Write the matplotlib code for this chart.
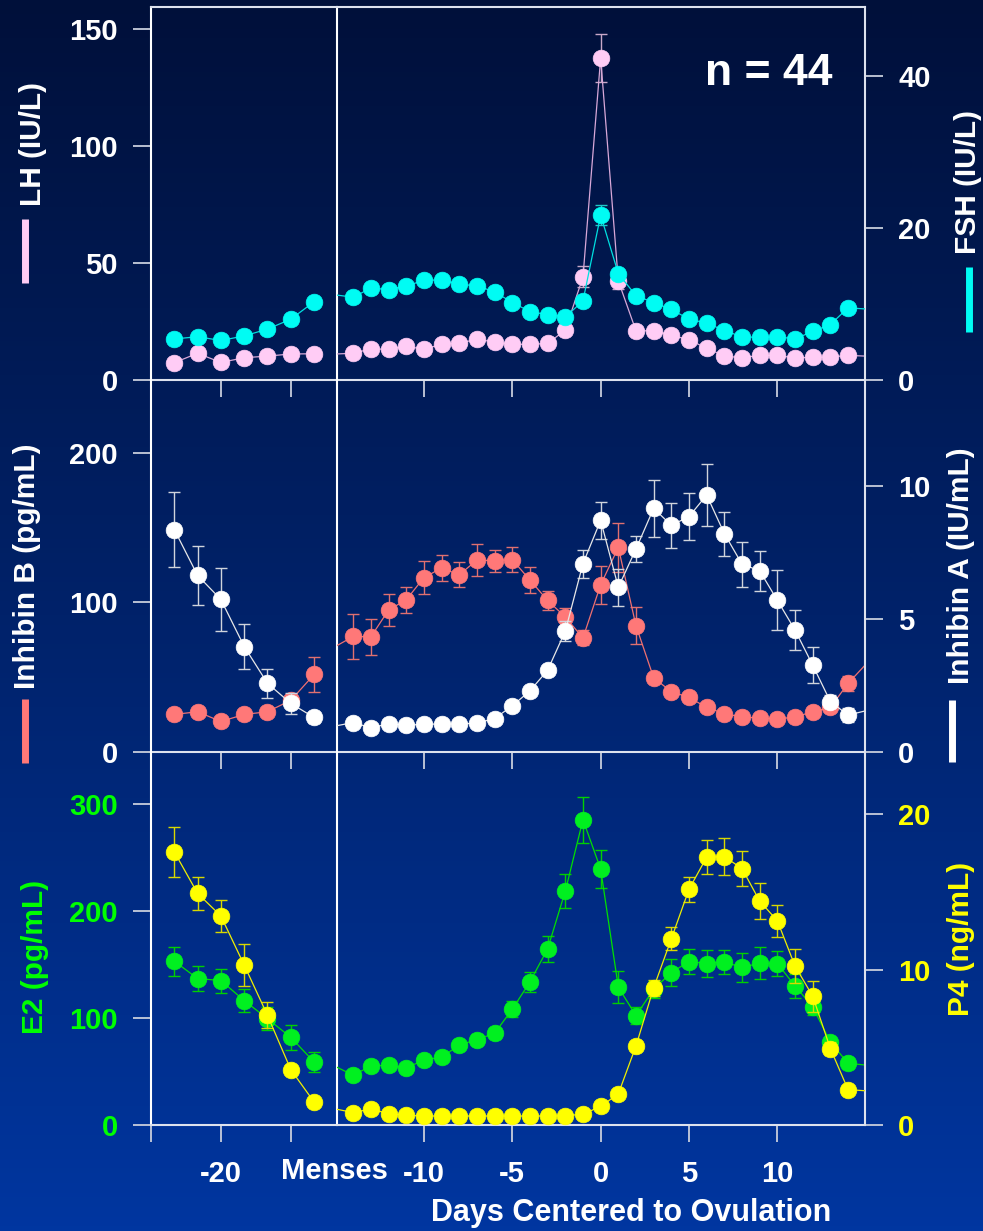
import numpy as np
import matplotlib
matplotlib.use("Agg")
import matplotlib.pyplot as plt
from matplotlib.lines import Line2D
from matplotlib.colors import LinearSegmentedColormap

plt.rcParams['font.family'] = ['Liberation Sans', 'DejaVu Sans']
plt.rcParams['font.weight'] = 'bold'

# ---------------- data ----------------
# pre-menses section (previous cycle), plotted on its own compressed scale
pre_x = [-23.33, -21.67, -20.0, -18.33, -16.67, -15.0, -13.33]
# main section: days centred to ovulation (days -15 and 15 only feed the
# connecting lines that run off the panel edges)
days = list(range(-15, 16))

lh_pre = [7.4, 11.4, 7.5, 9.5, 10.2, 11.1, 11.2]
lh_pre_err = [1.0, 1.0, 1.0, 1.0, 1.0, 1.0, 1.0]
fsh_pre = [5.4, 5.7, 5.2, 5.8, 6.7, 8.0, 10.3]
fsh_pre_err = [0.3, 0.3, 0.3, 0.3, 0.3, 0.4, 0.4]

lh = [11.1, 11.4, 13.3, 13.1, 14.4, 13.1, 15.3, 15.6, 17.5, 16.1, 15.3, 15.2, 15.6,
      21.3, 44.0, 137.4, 42.3, 21.0, 21.0, 19.2, 17.1, 13.6, 10.2, 9.5, 10.5, 10.5,
      9.4, 9.7, 9.8, 10.5, 10.2]
lh_err = [1.0, 1.0, 1.0, 1.0, 1.0, 1.0, 1.0, 1.0, 1.2, 1.0, 1.0, 1.0, 1.0,
          1.5, 4.5, 10.4, 3.5, 1.5, 1.5, 1.2, 1.2, 1.0, 1.0, 1.0, 1.0, 1.0,
          1.0, 1.0, 1.0, 1.0, 1.0]
fsh = [11.2, 10.9, 12.1, 11.9, 12.4, 13.1, 13.2, 12.6, 12.4, 11.6, 10.2, 9.0, 8.6,
       8.3, 10.4, 21.7, 14.0, 11.1, 10.2, 9.3, 8.0, 7.5, 6.5, 5.7, 5.6, 5.7,
       5.4, 6.4, 7.3, 9.5, 9.35]
fsh_err = [0.4, 0.4, 0.4, 0.4, 0.4, 0.4, 0.4, 0.4, 0.4, 0.4, 0.4, 0.3, 0.3,
           0.3, 0.5, 1.3, 0.6, 0.4, 0.4, 0.3, 0.3, 0.3, 0.3, 0.3, 0.3, 0.3,
           0.3, 0.3, 0.3, 0.4, 0.4]

inhb_pre = [25.1, 26.9, 20.4, 25.1, 26.9, 34.5, 51.8]
inhb_pre_err = [2.0, 2.0, 2.0, 2.0, 2.0, 3.0, 11.6]
inha_pre = [8.37, 6.65, 5.74, 3.97, 2.59, 1.83, 1.30]
inha_pre_err = [1.4, 1.1, 1.2, 0.84, 0.54, 0.4, 0.2]

inhb = [70.6, 77.2, 77.0, 94.9, 101.7, 116.6, 122.9, 118.4, 128.3, 127.8, 128.5,
        114.9, 101.3, 90.2, 76.2, 111.8, 136.7, 84.4, 49.6, 40.3, 36.5, 29.8,
        25.6, 23.4, 22.7, 22.0, 23.4, 26.9, 29.8, 45.8, 58.5]
inhb_err = [10.0, 15.3, 12.0, 10.4, 8.9, 11.2, 8.7, 8.3, 10.6, 7.5, 8.4,
            8.9, 6.4, 6.2, 5.0, 12.7, 16.5, 12.5, 3.0, 2.5, 2.0, 1.5,
            1.5, 1.5, 1.5, 1.5, 2.0, 3.0, 3.0, 5.0, 5.0]
inha = [0.98, 1.11, 0.91, 1.06, 1.01, 1.04, 1.06, 1.05, 1.09, 1.26, 1.74,
        2.30, 3.08, 4.55, 7.09, 8.72, 6.20, 7.64, 9.17, 8.53, 8.86, 9.67,
        8.22, 7.07, 6.82, 5.71, 4.59, 3.27, 1.90, 1.39, 1.55]
inha_err = [0.1, 0.1, 0.1, 0.1, 0.1, 0.1, 0.1, 0.1, 0.1, 0.1, 0.12,
            0.15, 0.2, 0.37, 0.53, 0.7, 0.7, 0.5, 1.07, 0.85, 0.9, 1.18,
            0.83, 0.85, 0.75, 1.13, 0.75, 0.69, 0.25, 0.25, 0.2]

e2_pre = [153.1, 136.9, 135.0, 116.3, 99.4, 82.0, 58.9]
e2_pre_err = [13.7, 12.0, 11.2, 10.7, 11.0, 11.8, 9.6]
p4_pre = [17.57, 14.91, 13.45, 10.29, 7.07, 3.57, 1.48]
p4_pre_err = [1.6, 1.07, 1.05, 1.33, 0.86, 0.3, 0.15]

e2 = [54.6, 46.5, 55.2, 55.8, 53.3, 60.8, 63.3, 74.8, 79.8, 85.8, 108.2,
      133.8, 164.6, 218.6, 285.3, 239.2, 128.8, 102.2, 126.9, 142.5, 152.8,
      150.9, 152.5, 147.2, 151.3, 150.9, 130.0, 110.4, 77.4, 57.7, 56.0]
e2_err = [5, 4, 5, 4, 4, 4, 4, 5, 5, 5, 7.5,
          9.6, 12.4, 16, 21.5, 17.4, 15, 8, 8, 12.5, 11.6,
          12.5, 11.5, 13.5, 15, 11.6, 11, 8, 5, 5, 5]
p4 = [1.03, 0.80, 1.03, 0.73, 0.62, 0.58, 0.58, 0.58, 0.58, 0.58, 0.58,
      0.58, 0.58, 0.60, 0.69, 1.2, 2.0, 5.09, 8.83, 11.98, 15.17,
      17.23, 17.27, 16.5, 14.41, 13.14, 10.23, 8.29, 4.92, 2.28, 2.2]
p4_err = [0.1, 0.1, 0.1, 0.1, 0.1, 0.1, 0.1, 0.1, 0.1, 0.1, 0.1,
          0.1, 0.1, 0.1, 0.1, 0.1, 0.15, 0.3, 0.5, 0.74, 0.8,
          1.1, 1.2, 1.14, 1.18, 1.04, 1.11, 1.0, 0.4, 0.2, 0.2]

# ---------------- layout ----------------
W, H = 983, 1231
fig = plt.figure(figsize=(W / 100, H / 100), dpi=100)


def fx(px):
    return px / W


def fy(py):
    return 1 - py / H


# dark-to-royal blue backdrop
bg = fig.add_axes([0, 0, 1, 1], zorder=-10)
cmap = LinearSegmentedColormap.from_list('bg', ['#00103a', '#00226a', '#0036a0'])
bg.imshow(np.linspace(0, 1, 256)[:, None], aspect='auto', cmap=cmap,
          extent=[0, 1, 0, 1], origin='upper')
bg.axis('off')

X_LEFT, X_BREAK, X_RIGHT = 151, 337, 865
panel_px = [(7, 380), (380, 752), (752, 1125)]
left_lims = [(0, 159.2), (0, 248.6), (0, 348.6)]
right_lims = [(0, 49.1), (0, 14.0), (0, 24.0)]
left_ticks = [[0, 50, 100, 150], [0, 100, 200], [0, 100, 200, 300]]
right_ticks = [[0, 20, 40], [0, 5, 10], [0, 10, 20]]
left_tcol = ['white', 'white', '#00ff00']
right_tcol = ['white', 'white', '#ffff00']

SPINE = '#dde2ee'
TICK = '#c8cedc'
FS = 21

series_pre = [
    ((lh_pre, lh_pre_err), (fsh_pre, fsh_pre_err)),
    ((inhb_pre, inhb_pre_err), (inha_pre, inha_pre_err)),
    ((e2_pre, e2_pre_err), (p4_pre, p4_pre_err)),
]
series_main = [
    ((lh, lh_err), (fsh, fsh_err)),
    ((inhb, inhb_err), (inha, inha_err)),
    ((e2, e2_err), (p4, p4_err)),
]
styles = [
    (('#ffccf5', '#d8a8d8', '#c8a8c8'), ('#00fcf4', '#00e0e0', '#20c8c8')),
    (('#ff7878', '#f07070', '#e07070'), ('#ffffff', '#e8e8e8', '#d0d4dc')),
    (('#00f020', '#00e000', '#00d000'), ('#ffff00', '#f0f000', '#d8d800')),
]


def draw_series(ax, x, y, err, style, trim=False):
    face, line, ecol = style
    ax.plot(x, y, '-', color=line, lw=0.9, zorder=3)
    # off-panel end points only contribute line segments
    if trim:
        x, y, err = x[1:-1], y[1:-1], err[1:-1]
    ax.errorbar(x, y, yerr=err, fmt='none', ecolor=ecol, elinewidth=1.0,
                capsize=4.3, capthick=1.0, zorder=2)
    ax.plot(x, y, 'o', ms=12, color=face, mec=face, mew=0.5, zorder=4)


def style_spines(ax, visible):
    for side, sp in ax.spines.items():
        sp.set_visible(side in visible)
        sp.set_color(SPINE)
        sp.set_linewidth(1.5)


for i, (top, bot) in enumerate(panel_px):
    h = (bot - top) / H
    axL = fig.add_axes([fx(X_LEFT), fy(bot), fx(X_BREAK) - fx(X_LEFT), h])
    axL.patch.set_visible(False)
    axL2 = axL.twinx()
    axM = fig.add_axes([fx(X_BREAK), fy(bot), fx(X_RIGHT) - fx(X_BREAK), h])
    axM.patch.set_visible(False)
    axM2 = axM.twinx()

    axL.set_xlim(-25, -11.69)
    axM.set_xlim(-14.92, 14.96)
    for a in (axL, axM):
        a.set_ylim(*left_lims[i])
    for a in (axL2, axM2):
        a.set_ylim(*right_lims[i])

    vis_top = ['top'] if i == 0 else []
    style_spines(axL, ['left', 'bottom', 'right'] + vis_top)
    style_spines(axM, ['bottom'] + vis_top)
    style_spines(axL2, [])
    style_spines(axM2, ['right'])
    axL.spines['right'].set_color('white')
    axL.spines['left'].set_color('white')

    # left-hand y axis
    axL.set_yticks(left_ticks[i])
    axL.tick_params(axis='y', direction='out', length=13, width=1.3, color=TICK,
                    pad=11, labelsize=FS, labelcolor=left_tcol[i])
    axL2.set_yticks([])
    axM.set_yticks([])
    # right-hand y axis
    axM2.set_yticks(right_ticks[i])
    axM2.tick_params(axis='y', direction='out', length=13, width=1.3, color=TICK,
                     pad=11, labelsize=FS, labelcolor=right_tcol[i])

    # x axes
    axL.set_xticks([-25, -20, -15])
    axM.set_xticks([-10, -5, 0, 5, 10])
    for a in (axL, axM):
        a.tick_params(axis='x', direction='out', length=12, width=1.3, color=TICK,
                      pad=13, labelsize=FS, labelcolor='white')
    if i == 2:
        axL.set_xticklabels(['', '-20', ''])
        axM.set_xticklabels(['-10', '-5', '0', '5', '10'])
    else:
        axL.set_xticklabels([])
        axM.set_xticklabels([])

    (ly, lerr), (ry, rerr) = series_pre[i]
    draw_series(axL, pre_x, ly, lerr, styles[i][0])
    draw_series(axL2, pre_x, ry, rerr, styles[i][1])
    (ly, lerr), (ry, rerr) = series_main[i]
    draw_series(axM, days, ly, lerr, styles[i][0], trim=True)
    draw_series(axM2, days, ry, rerr, styles[i][1], trim=True)

# ---------------- text ----------------
fig.text(fx(334), fy(1171), 'Menses', ha='center', va='center',
         color='white', fontsize=FS)
fig.text(fx(631), fy(1213), 'Days Centered to Ovulation', ha='center',
         va='center', color='white', fontsize=22)
fig.text(fx(705), fy(85), 'n = 44', ha='left', va='baseline',
         color='white', fontsize=32)

ylabels = [
    ('LH (IU/L)', 33, 144.5, 'white'),
    ('Inhibin B (pg/mL)', 27, 566, 'white'),
    ('E2 (pg/mL)', 35, 957, '#00ff00'),
    ('FSH (IU/L)', 968, 182.5, 'white'),
    ('Inhibin A (IU/mL)', 961, 565.5, 'white'),
    ('P4 (ng/mL)', 961, 938.5, '#ffff00'),
]
for txt, x, y, c in ylabels:
    fig.text(fx(x), fy(y), txt, rotation=90, ha='center', va='center',
             color=c, fontsize=21.5)

# short colour keys beside the axis titles
keys = [
    (24.5, 219, 283, '#ffccf5'),
    (24.5, 699, 763, '#ff7878'),
    (968.5, 267, 332, '#00fcf4'),
    (952, 700, 762, '#ffffff'),
]
for x, y0, y1, c in keys:
    fig.add_artist(Line2D([fx(x), fx(x)], [fy(y0), fy(y1)], color=c, lw=5,
                          solid_capstyle='butt'))

fig.savefig('out.png', dpi=100)
